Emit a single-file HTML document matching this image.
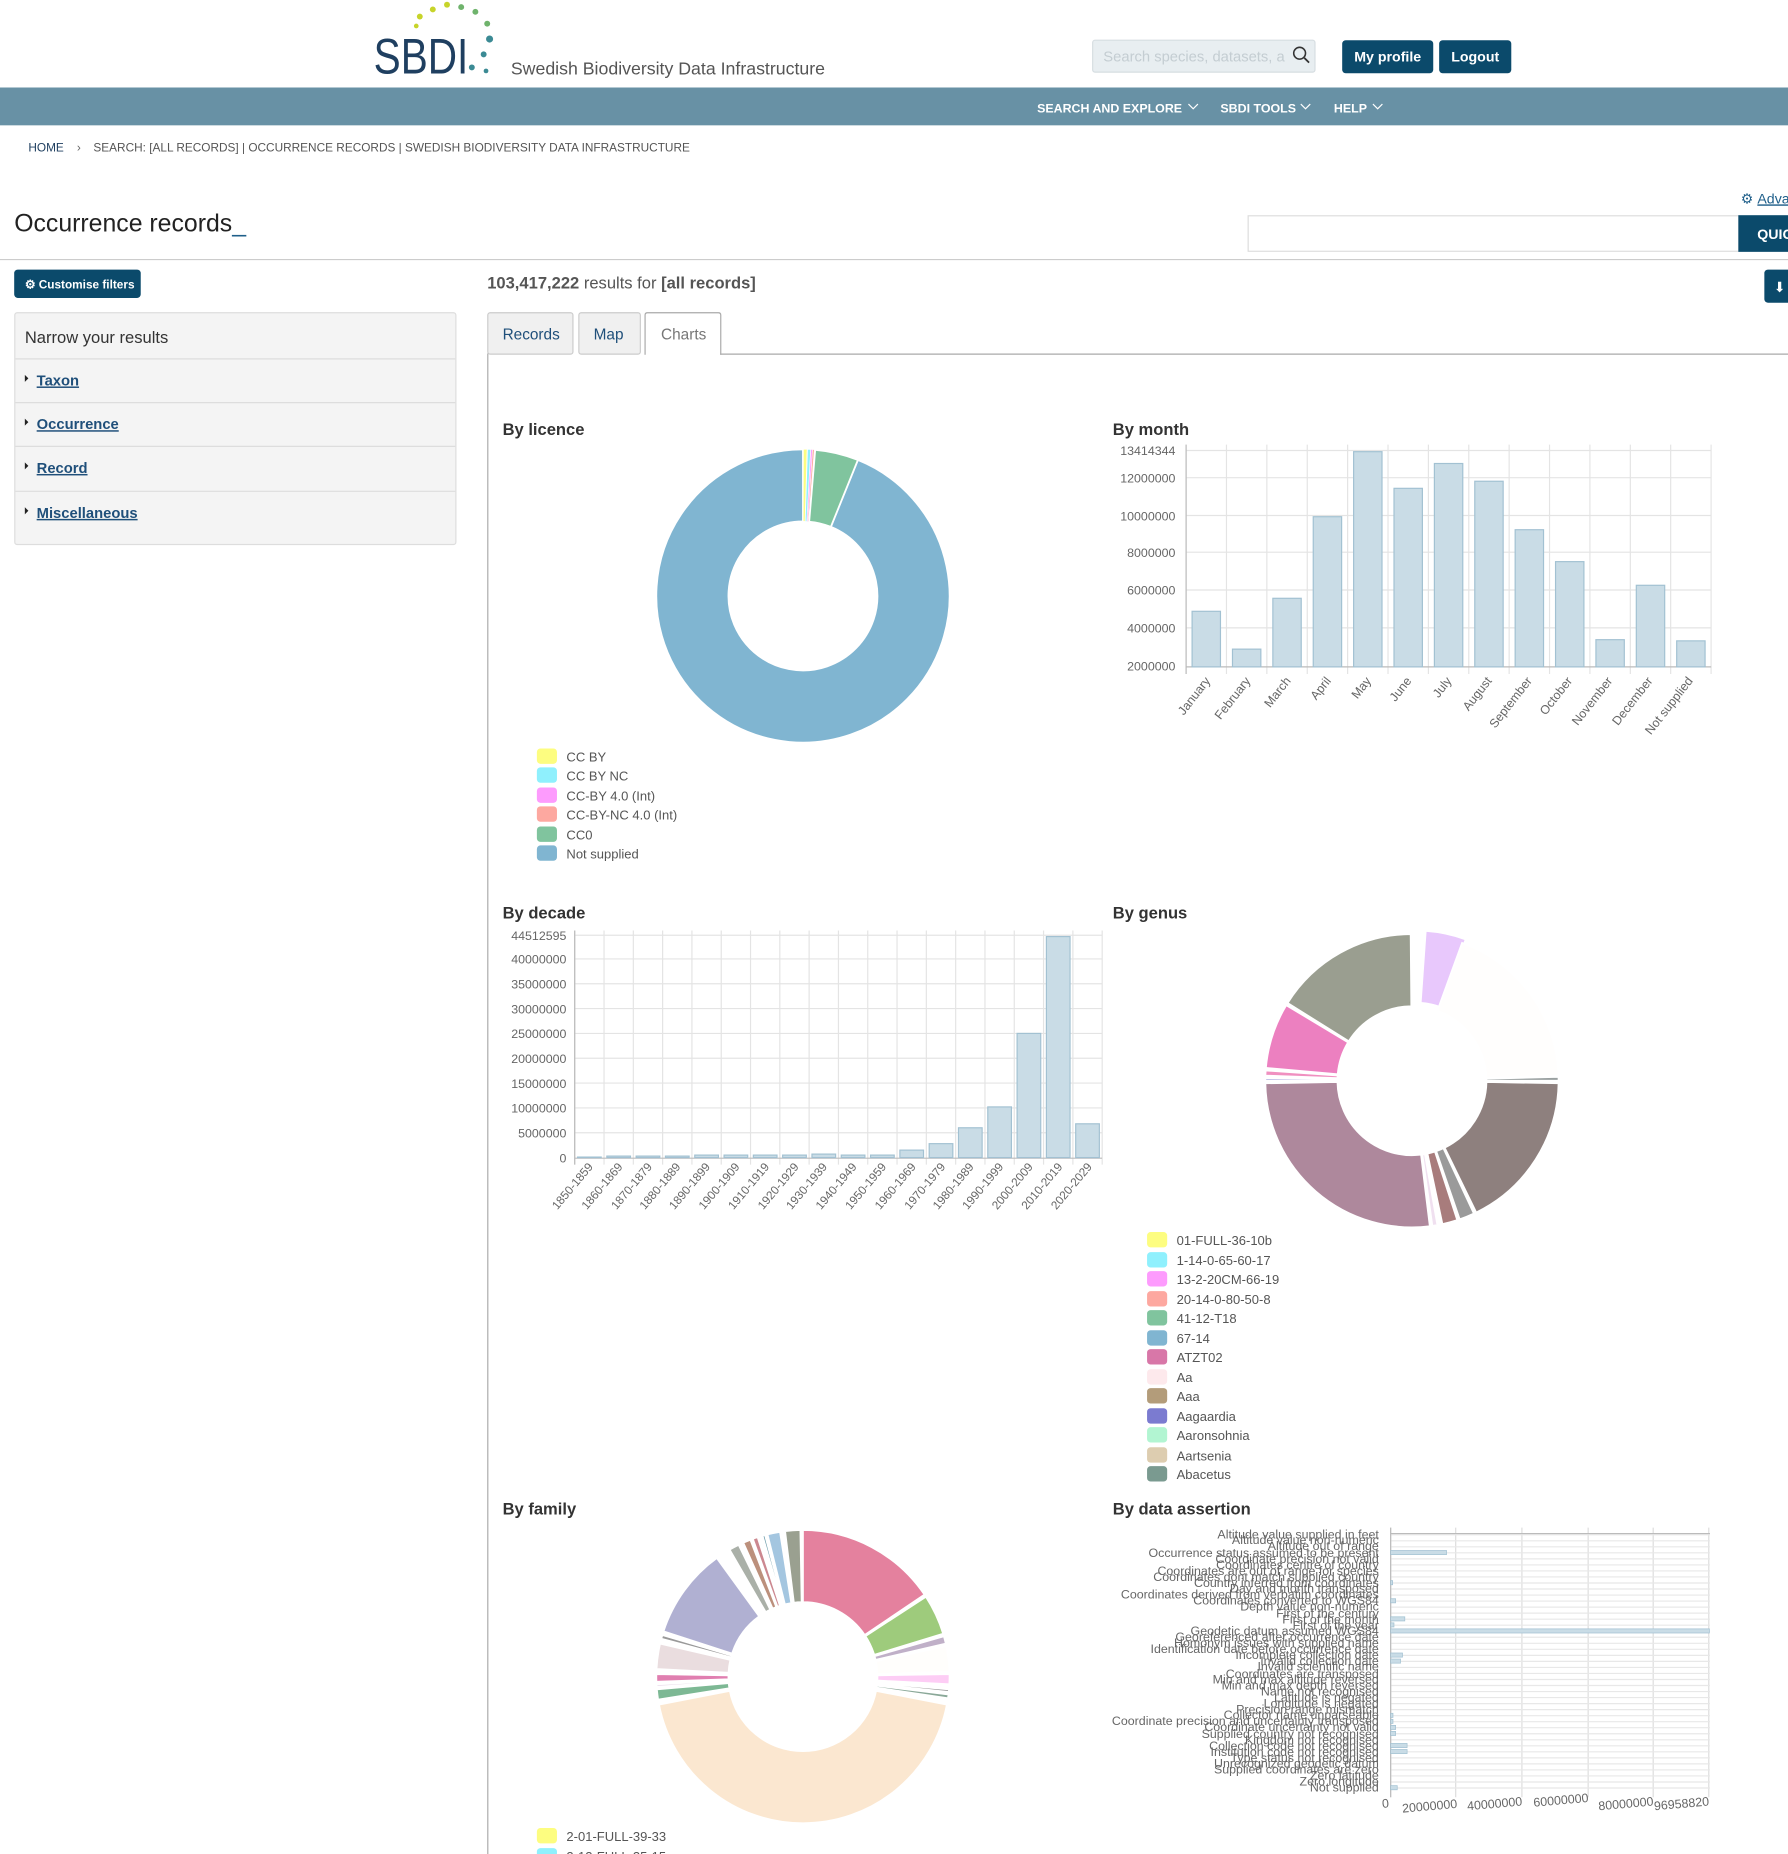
<!DOCTYPE html>
<html><head><meta charset="utf-8"><style>
html,body{margin:0;padding:0;background:#fff;}
svg{display:block;font-family:"Liberation Sans",Arial,sans-serif;}
</style></head><body>
<svg id="s" width="1788" height="1854" viewBox="0 0 1512 1568" preserveAspectRatio="none" xmlns="http://www.w3.org/2000/svg">
<rect width="1512" height="1568" fill="#fff"/>
<!-- header -->
<g fill="#c7d42a"><circle cx="355" cy="14" r="2.5"/><circle cx="366" cy="8" r="2.5"/><circle cx="378" cy="4" r="2.5"/><circle cx="352" cy="22" r="2"/></g>
<g fill="#6fb36c"><circle cx="390" cy="6" r="2.5"/><circle cx="402" cy="10" r="2.5"/><circle cx="412" cy="20" r="2.5"/></g>
<g fill="#3b8a94"><circle cx="414" cy="33" r="3"/><circle cx="409" cy="46" r="2.5"/><circle cx="399" cy="57" r="2.5"/><circle cx="411" cy="60" r="2"/></g>
<text x="316" y="62" font-size="42" fill="#1f3f60" textLength="80" lengthAdjust="spacingAndGlyphs">SBDI</text>
<text x="432" y="63" font-size="15" fill="#555">Swedish Biodiversity Data Infrastructure</text>
<rect x="924" y="34" width="188" height="27" rx="2" fill="#e8eef1" stroke="#d6dde1"/>
<text x="933" y="52" font-size="12.5" fill="#c4cdd2">Search species, datasets, a</text>
<circle cx="1099" cy="45" r="5" fill="none" stroke="#333" stroke-width="1.3"/><line x1="1103" y1="49" x2="1107" y2="53" stroke="#333" stroke-width="1.5"/>
<rect x="1135" y="34" width="77" height="28" rx="3" fill="#0b4a6b"/><text x="1173.5" y="52" font-size="12" fill="#fff" text-anchor="middle" font-weight="bold">My profile</text>
<rect x="1217" y="34" width="61" height="28" rx="3" fill="#0b4a6b"/><text x="1247.5" y="52" font-size="12" fill="#fff" text-anchor="middle" font-weight="bold">Logout</text>
<rect x="0" y="74" width="1512" height="32" fill="#6891a5"/>
<g font-size="10.5" font-weight="bold" fill="#fff">
<text x="877" y="95">SEARCH AND EXPLORE</text><text x="1032" y="95">SBDI TOOLS</text><text x="1128" y="95">HELP</text></g>
<g fill="none" stroke="#fff" stroke-width="1"><path d="M1005 88l4 4 4-4"/><path d="M1100 88l4 4 4-4"/><path d="M1161 88l4 4 4-4"/></g>
<text x="24" y="128" font-size="10" fill="#1f3f60">HOME</text>
<text x="65" y="128" font-size="10" fill="#666">›</text>
<text x="79" y="128" font-size="10" fill="#555">SEARCH: [ALL RECORDS] | OCCURRENCE RECORDS | SWEDISH BIODIVERSITY DATA INFRASTRUCTURE</text>
<text x="1472" y="172" font-size="12" fill="#1f5f8a">⚙ <tspan text-decoration="underline">Adva</tspan></text>
<text x="12" y="196" font-size="21" fill="#222">Occurrence records<tspan fill="#1f5f8a">_</tspan></text>
<rect x="1055.5" y="182.5" width="415" height="30" fill="#fff" stroke="#ddd"/>
<rect x="1470" y="182" width="42" height="31" fill="#0b4a6b"/><text x="1486" y="202" font-size="12" font-weight="bold" fill="#fff">QUIC</text>
<line x1="0" y1="219.5" x2="1512" y2="219.5" stroke="#ccc"/>
<rect x="12" y="228" width="107" height="24" rx="3" fill="#0b4a6b"/><text x="21" y="244" font-size="10" fill="#fff" font-weight="bold">⚙ Customise filters</text>
<text x="412" y="244" font-size="14" fill="#555"><tspan font-weight="bold">103,417,222</tspan> results for <tspan font-weight="bold">[all records]</tspan></text>
<rect x="1492" y="228" width="24" height="28" rx="3" fill="#0b4a6b"/><text x="1500" y="247" font-size="12" fill="#fff">⬇</text>
<rect x="12.5" y="264.5" width="373" height="196" rx="2" fill="#f4f4f4" stroke="#ddd"/>
<g stroke="#ddd"><line x1="13" y1="303.5" x2="385" y2="303.5"/><line x1="13" y1="340.5" x2="385" y2="340.5"/><line x1="13" y1="377.5" x2="385" y2="377.5"/><line x1="13" y1="415.5" x2="385" y2="415.5"/></g>
<text x="21" y="290" font-size="14" fill="#333">Narrow your results</text>
<g font-size="12.5" font-weight="bold" fill="#1f4f7a" text-decoration="underline">
<text x="31" y="326">Taxon</text><text x="31" y="363">Occurrence</text><text x="31" y="400">Record</text><text x="31" y="438">Miscellaneous</text></g>
<g fill="#222"><path d="M21 317l3 3-3 3z"/><path d="M21 354l3 3-3 3z"/><path d="M21 391l3 3-3 3z"/><path d="M21 429l3 3-3 3z"/></g>
<!-- tabs -->
<rect x="412.5" y="264.5" width="72" height="35" rx="2" fill="#f0f0f0" stroke="#ccc"/>
<rect x="489.5" y="264.5" width="52" height="35" rx="2" fill="#f0f0f0" stroke="#ccc"/>
<path d="M545.5 300V266.5q0-2 2-2h60q2 0 2 2V300" fill="#fff" stroke="#aaa"/>
<line x1="609" y1="299.5" x2="1512" y2="299.5" stroke="#aaa"/>
<line x1="412.5" y1="299" x2="412.5" y2="1568" stroke="#aaa"/>
<text x="425" y="287" font-size="13" fill="#1f4f7a">Records</text>
<text x="502" y="287" font-size="13" fill="#1f4f7a">Map</text>
<text x="559" y="287" font-size="13" fill="#777">Charts</text>
<!-- titles -->
<g font-size="14" font-weight="bold" fill="#333">
<text x="425" y="368">By licence</text><text x="941" y="368">By month</text>
<text x="425" y="777">By decade</text><text x="941" y="777">By genus</text>
<text x="425" y="1281">By family</text><text x="941" y="1281">By data assertion</text></g>
<g id="charts"></g>
<!-- licence legend -->
<g font-size="11" fill="#555">
<rect x="454" y="633" width="17" height="13" rx="3" fill="#fdfd80"/><text x="479" y="644">CC BY</text>
<rect x="454" y="649" width="17" height="13" rx="3" fill="#8ff0fd"/><text x="479" y="660">CC BY NC</text>
<rect x="454" y="666" width="17" height="13" rx="3" fill="#fd9bfd"/><text x="479" y="677">CC-BY 4.0 (Int)</text>
<rect x="454" y="682" width="17" height="13" rx="3" fill="#fda8a0"/><text x="479" y="693">CC-BY-NC 4.0 (Int)</text>
<rect x="454" y="699" width="17" height="13" rx="3" fill="#80c49e"/><text x="479" y="710">CC0</text>
<rect x="454" y="715" width="17" height="13" rx="3" fill="#80b5d1"/><text x="479" y="726">Not supplied</text>
</g>
<!-- month axis labels -->
<g font-size="10.5" fill="#666" text-anchor="end">
<text x="994" y="385">13414344</text><text x="994" y="408">12000000</text><text x="994" y="440">10000000</text><text x="994" y="471">8000000</text><text x="994" y="503">6000000</text><text x="994" y="535">4000000</text><text x="994" y="567">2000000</text></g>
<g font-size="10.5" fill="#666" text-anchor="end">
<text transform="translate(1024,576) rotate(-52)">January</text>
<text transform="translate(1058,576) rotate(-52)">February</text>
<text transform="translate(1092,576) rotate(-52)">March</text>
<text transform="translate(1126,576) rotate(-52)">April</text>
<text transform="translate(1160,576) rotate(-52)">May</text>
<text transform="translate(1194,576) rotate(-52)">June</text>
<text transform="translate(1228,576) rotate(-52)">July</text>
<text transform="translate(1262,576) rotate(-52)">August</text>
<text transform="translate(1296,576) rotate(-52)">September</text>
<text transform="translate(1330,576) rotate(-52)">October</text>
<text transform="translate(1364,576) rotate(-52)">November</text>
<text transform="translate(1398,576) rotate(-52)">December</text>
<text transform="translate(1432,576) rotate(-52)">Not supplied</text></g>
<!-- decade labels -->
<g font-size="10.5" fill="#666" text-anchor="end">
<text x="479" y="795">44512595</text><text x="479" y="815">40000000</text><text x="479" y="836">35000000</text><text x="479" y="857">30000000</text><text x="479" y="878">25000000</text><text x="479" y="899">20000000</text><text x="479" y="920">15000000</text><text x="479" y="941">10000000</text><text x="479" y="962">5000000</text><text x="479" y="983">0</text></g>
<g font-size="10" fill="#666" text-anchor="end">
<text transform="translate(502,987) rotate(-50)">1850-1859</text>
<text transform="translate(527,987) rotate(-50)">1860-1869</text>
<text transform="translate(552,987) rotate(-50)">1870-1879</text>
<text transform="translate(576,987) rotate(-50)">1880-1889</text>
<text transform="translate(601,987) rotate(-50)">1890-1899</text>
<text transform="translate(626,987) rotate(-50)">1900-1909</text>
<text transform="translate(651,987) rotate(-50)">1910-1919</text>
<text transform="translate(676,987) rotate(-50)">1920-1929</text>
<text transform="translate(700,987) rotate(-50)">1930-1939</text>
<text transform="translate(725,987) rotate(-50)">1940-1949</text>
<text transform="translate(750,987) rotate(-50)">1950-1959</text>
<text transform="translate(775,987) rotate(-50)">1960-1969</text>
<text transform="translate(800,987) rotate(-50)">1970-1979</text>
<text transform="translate(824,987) rotate(-50)">1980-1989</text>
<text transform="translate(849,987) rotate(-50)">1990-1999</text>
<text transform="translate(874,987) rotate(-50)">2000-2009</text>
<text transform="translate(899,987) rotate(-50)">2010-2019</text>
<text transform="translate(924,987) rotate(-50)">2020-2029</text></g>
<!-- genus legend -->
<g font-size="11" fill="#555">
<rect x="970" y="1042" width="17" height="13" rx="3" fill="#fdfd80"/><text x="995" y="1053">01-FULL-36-10b</text>
<rect x="970" y="1059" width="17" height="13" rx="3" fill="#8ff0fd"/><text x="995" y="1070">1-14-0-65-60-17</text>
<rect x="970" y="1075" width="17" height="13" rx="3" fill="#fd9bfd"/><text x="995" y="1086">13-2-20CM-66-19</text>
<rect x="970" y="1092" width="17" height="13" rx="3" fill="#fda8a0"/><text x="995" y="1103">20-14-0-80-50-8</text>
<rect x="970" y="1108" width="17" height="13" rx="3" fill="#80c49e"/><text x="995" y="1119">41-12-T18</text>
<rect x="970" y="1125" width="17" height="13" rx="3" fill="#80b5d1"/><text x="995" y="1136">67-14</text>
<rect x="970" y="1141" width="17" height="13" rx="3" fill="#d877a8"/><text x="995" y="1152">ATZT02</text>
<rect x="970" y="1158" width="17" height="13" rx="3" fill="#fde9ec"/><text x="995" y="1169">Aa</text>
<rect x="970" y="1174" width="17" height="13" rx="3" fill="#b39c7a"/><text x="995" y="1185">Aaa</text>
<rect x="970" y="1191" width="17" height="13" rx="3" fill="#7b7bd0"/><text x="995" y="1202">Aagaardia</text>
<rect x="970" y="1207" width="17" height="13" rx="3" fill="#b2f5d2"/><text x="995" y="1218">Aaronsohnia</text>
<rect x="970" y="1224" width="17" height="13" rx="3" fill="#ddcdb0"/><text x="995" y="1235">Aartsenia</text>
<rect x="970" y="1240" width="17" height="13" rx="3" fill="#7a9a90"/><text x="995" y="1251">Abacetus</text>
</g>
<!-- family legend -->
<g font-size="11" fill="#555">
<rect x="454" y="1546" width="17" height="13" rx="3" fill="#fdfd80"/><text x="479" y="1557">2-01-FULL-39-33</text>
<rect x="454" y="1563" width="17" height="13" rx="3" fill="#8ff0fd"/><text x="479" y="1574">2-12-FULL-35-15</text>
</g>
<!-- data assertion labels -->
<g font-size="10.5" fill="#666" text-anchor="end">
<text x="1166" y="1301">Altitude value supplied in feet</text>
<text x="1166" y="1306">Altitude value non-numeric</text>
<text x="1166" y="1311">Altitude out of range</text>
<text x="1166" y="1317">Occurrence status assumed to be present</text>
<text x="1166" y="1322">Coordinate precision not valid</text>
<text x="1166" y="1327">Coordinates centre of country</text>
<text x="1166" y="1332">Coordinates are out of range for species</text>
<text x="1166" y="1337">Coordinates dont match supplied country</text>
<text x="1166" y="1342">Country inferred from coordinates</text>
<text x="1166" y="1347">Day and month transposed</text>
<text x="1166" y="1352">Coordinates derived from verbatim coordinates</text>
<text x="1166" y="1357">Coordinates converted to WGS84</text>
<text x="1166" y="1362">Depth value non-numeric</text>
<text x="1166" y="1368">First of the century</text>
<text x="1166" y="1373">First of the month</text>
<text x="1166" y="1378">First of the year</text>
<text x="1166" y="1383">Geodetic datum assumed WGS84</text>
<text x="1166" y="1388">Georeferenced after occurrence date</text>
<text x="1166" y="1393">Homonym issues with supplied name</text>
<text x="1166" y="1398">Identification date before occurrence date</text>
<text x="1166" y="1403">Incomplete collection date</text>
<text x="1166" y="1408">Invalid collection date</text>
<text x="1166" y="1413">Invalid scientific name</text>
<text x="1166" y="1419">Coordinates are transposed</text>
<text x="1166" y="1424">Min and max altitude reversed</text>
<text x="1166" y="1429">Min and max depth reversed</text>
<text x="1166" y="1434">Name not recognised</text>
<text x="1166" y="1439">Latitude is negated</text>
<text x="1166" y="1444">Longitude is negated</text>
<text x="1166" y="1449">Precision range mismatch</text>
<text x="1166" y="1454">Collector name unparseable</text>
<text x="1166" y="1459">Coordinate precision and uncertainty transposed</text>
<text x="1166" y="1464">Coordinate uncertainty not valid</text>
<text x="1166" y="1470">Supplied country not recognised</text>
<text x="1166" y="1475">Kingdom not recognised</text>
<text x="1166" y="1480">Collection code not recognised</text>
<text x="1166" y="1485">Institution code not recognised</text>
<text x="1166" y="1490">Type status not recognised</text>
<text x="1166" y="1495">Unrecognized geodetic datum</text>
<text x="1166" y="1500">Supplied coordinates are zero</text>
<text x="1166" y="1505">Zero latitude</text>
<text x="1166" y="1510">Zero longitude</text>
<text x="1166" y="1515">Not supplied</text></g>
<g font-size="10.5" fill="#666">
<text x="1169" y="1529" transform="rotate(-5 1169 1529)">0</text>
<text x="1186" y="1533" transform="rotate(-5 1186 1533)">20000000</text>
<text x="1241" y="1531" transform="rotate(-5 1241 1531)">40000000</text>
<text x="1297" y="1528" transform="rotate(-5 1297 1528)">60000000</text>
<text x="1352" y="1531" transform="rotate(-5 1352 1531)">80000000</text>
<text x="1399" y="1531" transform="rotate(-5 1399 1531)">96958820</text></g>
</svg>
<script>
(function(){
var NS="http://www.w3.org/2000/svg",g=document.getElementById("charts");
function el(t,a){var e=document.createElementNS(NS,t);for(var k in a)e.setAttribute(k,a[k]);g.appendChild(e);return e;}
function line(x1,y1,x2,y2,c){el("line",{x1:x1,y1:y1,x2:x2,y2:y2,stroke:c||"#e4e4e4","stroke-width":1});}
function pt(cx,cy,r,a){a=a*Math.PI/180;return [cx+r*Math.sin(a),cy-r*Math.cos(a)];}
function seg(cx,cy,a0,a1,c,sw){var ro=124,ri=63;var l=(a1-a0)>180?1:0;
var p1=pt(cx,cy,ro,a0),p2=pt(cx,cy,ro,a1),p3=pt(cx,cy,ri,a1),p4=pt(cx,cy,ri,a0);
el("path",{d:"M"+p1+"A"+ro+","+ro+" 0 "+l+" 1 "+p2+"L"+p3+"A"+ri+","+ri+" 0 "+l+" 0 "+p4+"Z",fill:c,stroke:"#fff","stroke-width":sw==null?1.5:sw});}
// licence
seg(679,504,22,360,"#80b5d1");
seg(679,504,0.2,1.6,"#fdfd80",0.5);seg(679,504,1.8,3.0,"#8ff0fd",0.5);seg(679,504,3.1,3.7,"#fd9bfd",0.3);seg(679,504,3.8,4.4,"#fda8a0",0.3);
seg(679,504,4.8,22,"#80c49e");
// month chart
for(var i=0;i<=13;i++){var x=1003+i*34.15;line(x,376,x,570);}
[381,404,436,467,499,531].forEach(function(y){line(1003,y,1447,y);});
line(1003,376,1003,570,"#bbb");line(1003,564,1447,564,"#bbb");
var mv=[517,549,506,437,382,413,392,407,448,475,541,495,542];
mv.forEach(function(t,i){var cx=1003+34.15*(i+0.5);el("rect",{x:cx-12,y:t,width:24,height:564-t,fill:"#c9dce6",stroke:"#a2c1d2","stroke-width":1});});
// decade chart
var w=24.78;
for(var i=0;i<=18;i++){var x=486+i*w;line(x,787,x,985);}
[791,811,832,853,874,895,916,937,958].forEach(function(y){line(486,y,932,y);});
line(486,787,486,985,"#bbb");line(486,979.5,932,979.5,"#bbb");
var dv=[0.1,0.3,0.3,0.3,0.5,0.5,0.5,0.5,0.7,0.5,0.5,1.5,2.8,6,10.2,25,44.5,6.8];
dv.forEach(function(v,i){var cx=486+w*(i+0.5),t=979-v*4.2;el("rect",{x:cx-10,y:t,width:20,height:979-t,fill:"#c9dce6",stroke:"#a2c1d2","stroke-width":1});});
// genus
var G=[1194,914];
seg(G[0]+3,G[1]-3,4,20,"#e8c8fc");
seg(G[0],G[1],20,88,"#fffefd");
seg(G[0],G[1],88.5,90,"#9aa0a0");
seg(G[0],G[1],91,154,"#8e807e");
seg(G[0],G[1],155,161,"#9a9a9a");
seg(G[0],G[1],162,168,"#a87c7c");
seg(G[0],G[1],170,172,"#f0e0f0");
seg(G[0],G[1],173,269,"#ae889c");
seg(G[0],G[1],270,271,"#b0b0e0");
seg(G[0],G[1],272,274,"#f090c0");
seg(G[0],G[1],275,301,"#ec80c0");
seg(G[0],G[1],302,359.5,"#9a9e90");
// family
var F=[679,1418];
seg(F[0],F[1],0,56,"#e4819e");seg(F[0],F[1],57,73,"#9ecb7c");seg(F[0],F[1],74,77,"#c0b0c8");
seg(F[0],F[1],78,88,"#fffefc");seg(F[0],F[1],89,93,"#fdcdf5");seg(F[0],F[1],95,96,"#999");seg(F[0],F[1],97,98.5,"#8aa898");
seg(F[0],F[1],101,259,"#fbe7d0");seg(F[0],F[1],261,265,"#7db894");seg(F[0],F[1],266,267,"#eadcea");
seg(F[0],F[1],268,271,"#e07fb0");seg(F[0],F[1],273,283,"#eadddf");seg(F[0],F[1],285,286.5,"#999");
seg(F[0],F[1],288,324,"#b0b0d2");seg(F[0],F[1],330,334,"#aab0a8");seg(F[0],F[1],336,339,"#bc907c");
seg(F[0],F[1],340,342,"#cc8890");seg(F[0],F[1],344,345,"#6a9aa8");seg(F[0],F[1],346,351,"#a4c6e0");seg(F[0],F[1],353,359,"#9aa090");
// data assertion
[1176,1231,1287,1343,1398,1445].forEach(function(x){line(x,1292,x,1520,"#ddd");});
for(var i=0;i<43;i++){var y=1298+i*5.1;line(1176,y,1446,y,"#e8e8e8");}
line(1176,1297,1446,1297,"#bbb");line(1176,1292,1176,1520,"#bbb");
var dvals={3:17,8:0.6,11:1.5,14:4.3,15:1,16:96.96,20:3.6,21:3,30:0.7,31:0.7,32:1.5,33:1.5,35:5,36:5,42:2};
for(var k in dvals){var y=1298+k*5.1-2;el("rect",{x:1176,y:y,width:dvals[k]*2.78,height:3.5,fill:"#c9dce6",stroke:"#a2c1d2","stroke-width":0.6});}
})();
</script>
</body></html>
